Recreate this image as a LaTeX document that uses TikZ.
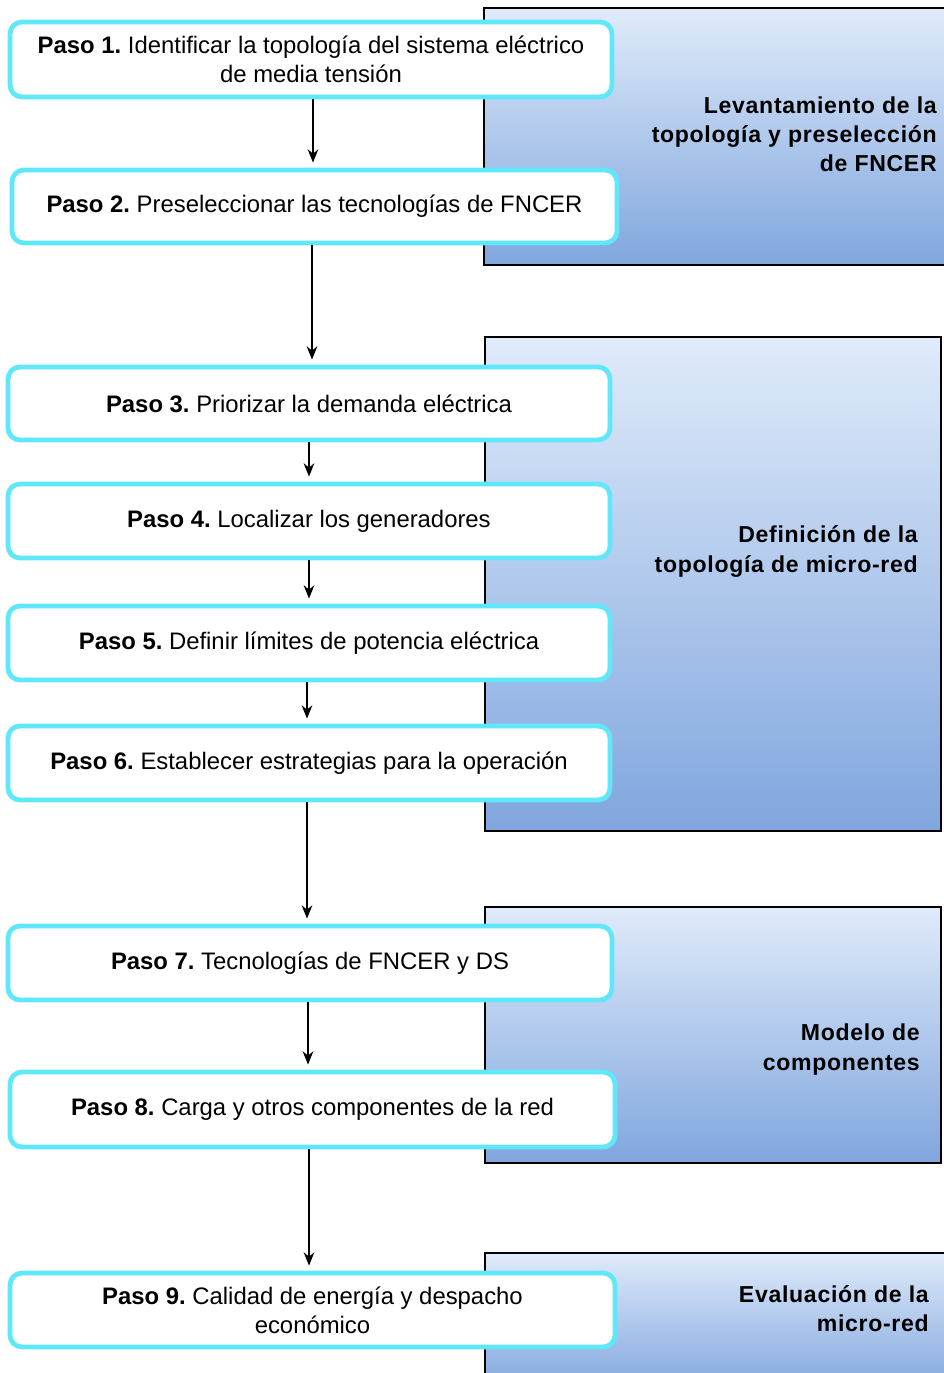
\documentclass[tikz,border=0pt]{standalone}
\usepackage{fontspec}
\usetikzlibrary{arrows.meta}
\setmainfont{Liberation Sans}
\newfontfamily\panelfont[LetterSpace=3.0]{Liberation Sans}
\definecolor{boxcyan}{RGB}{96,232,250}
\definecolor{pantop}{RGB}{224,235,250}
\definecolor{panbot}{RGB}{128,166,222}
\frenchspacing
\tikzset{
  stepbox/.style={draw=boxcyan, line width=3.6pt, fill=white, rounded corners=9pt,
    minimum width=602*0.75pt, minimum height=74*0.75pt, align=center, inner sep=0pt,
    font=\fontsize{17.9}{21.8}\selectfont},
  panelbox/.style={draw=black, line width=2pt, top color=pantop, bottom color=panbot},
  paneltext/.style={anchor=east, align=right, inner sep=0pt,
    font=\panelfont\bfseries\fontsize{17.3}{21.8}\selectfont},
  flow/.style={-{Stealth[length=10pt,width=8pt]}, line width=1.1pt, shorten >=5*0.75pt}
}
\begin{document}
\begin{tikzpicture}[x=0.75pt,y=-0.75pt]
\useasboundingbox (0,0) rectangle (943,1373);
% panels
\path[panelbox] (484,8) rectangle (950,265);
\path[panelbox] (485,337) rectangle (941,831);
\path[panelbox] (485,907) rectangle (941,1163);
\path[panelbox] (485,1253) rectangle (950,1390);
\node[paneltext] (t1) at (937,134) {Levantamiento de la\\topología y preselección\\de FNCER};
\node[paneltext] (t2) at (918,551.5) {Definición de la\\topología de micro-red};
\node[paneltext] (t3) at (920,1049.5) {Modelo de\\componentes};
\node[paneltext] (t4) at (929,1308.5) {Evaluación de la\\micro-red};
% steps
\node[stepbox, minimum width=602*0.75pt, minimum height=75*0.75pt] (p1) at (311,59.5) {\textbf{Paso 1.} Identificar la topología del sistema eléctrico\\de media tensión};
\node[stepbox, minimum width=605*0.75pt, minimum height=73*0.75pt] (p2) at (314.5,206.5) {\textbf{Paso 2.} Preseleccionar las tecnologías de FNCER};
\node[stepbox, minimum height=73*0.75pt] (p3) at (309,403.5) {\textbf{Paso 3.} Priorizar la demanda eléctrica};
\node[stepbox] (p4) at (309,521) {\textbf{Paso 4.} Localizar los generadores};
\node[stepbox] (p5) at (309,643) {\textbf{Paso 5.} Definir límites de potencia eléctrica};
\node[stepbox] (p6) at (309,763) {\textbf{Paso 6.} Establecer estrategias para la operación};
\node[stepbox, minimum width=604*0.75pt] (p7) at (310,963) {\textbf{Paso 7.} Tecnologías de FNCER y DS};
\node[stepbox, minimum width=605*0.75pt, minimum height=75*0.75pt] (p8) at (312.5,1109.5) {\textbf{Paso 8.} Carga y otros componentes de la red};
\node[stepbox, minimum width=605*0.75pt] (p9) at (312.5,1310) {\textbf{Paso 9.} Calidad de energía y despacho\\económico};
% arrows
\draw[flow] ([xshift=2*0.75pt]p1.south) -- ([xshift=2*0.75pt]p1.south |- p2.north);
\draw[flow] ([xshift=-2.5*0.75pt]p2.south) -- ([xshift=-2.5*0.75pt]p2.south |- p3.north);
\draw[flow] (p3.south) -- (p3.south |- p4.north);
\draw[flow] (p4.south) -- (p4.south |- p5.north);
\draw[flow] ([xshift=-2*0.75pt]p5.south) -- ([xshift=-2*0.75pt]p5.south |- p6.north);
\draw[flow] ([xshift=-2*0.75pt]p6.south) -- ([xshift=-2*0.75pt]p6.south |- p7.north);
\draw[flow] ([xshift=-2*0.75pt]p7.south) -- ([xshift=-2*0.75pt]p7.south |- p8.north);
\draw[flow] ([xshift=-3.5*0.75pt]p8.south) -- ([xshift=-3.5*0.75pt]p8.south |- p9.north);
\end{tikzpicture}
\end{document}
